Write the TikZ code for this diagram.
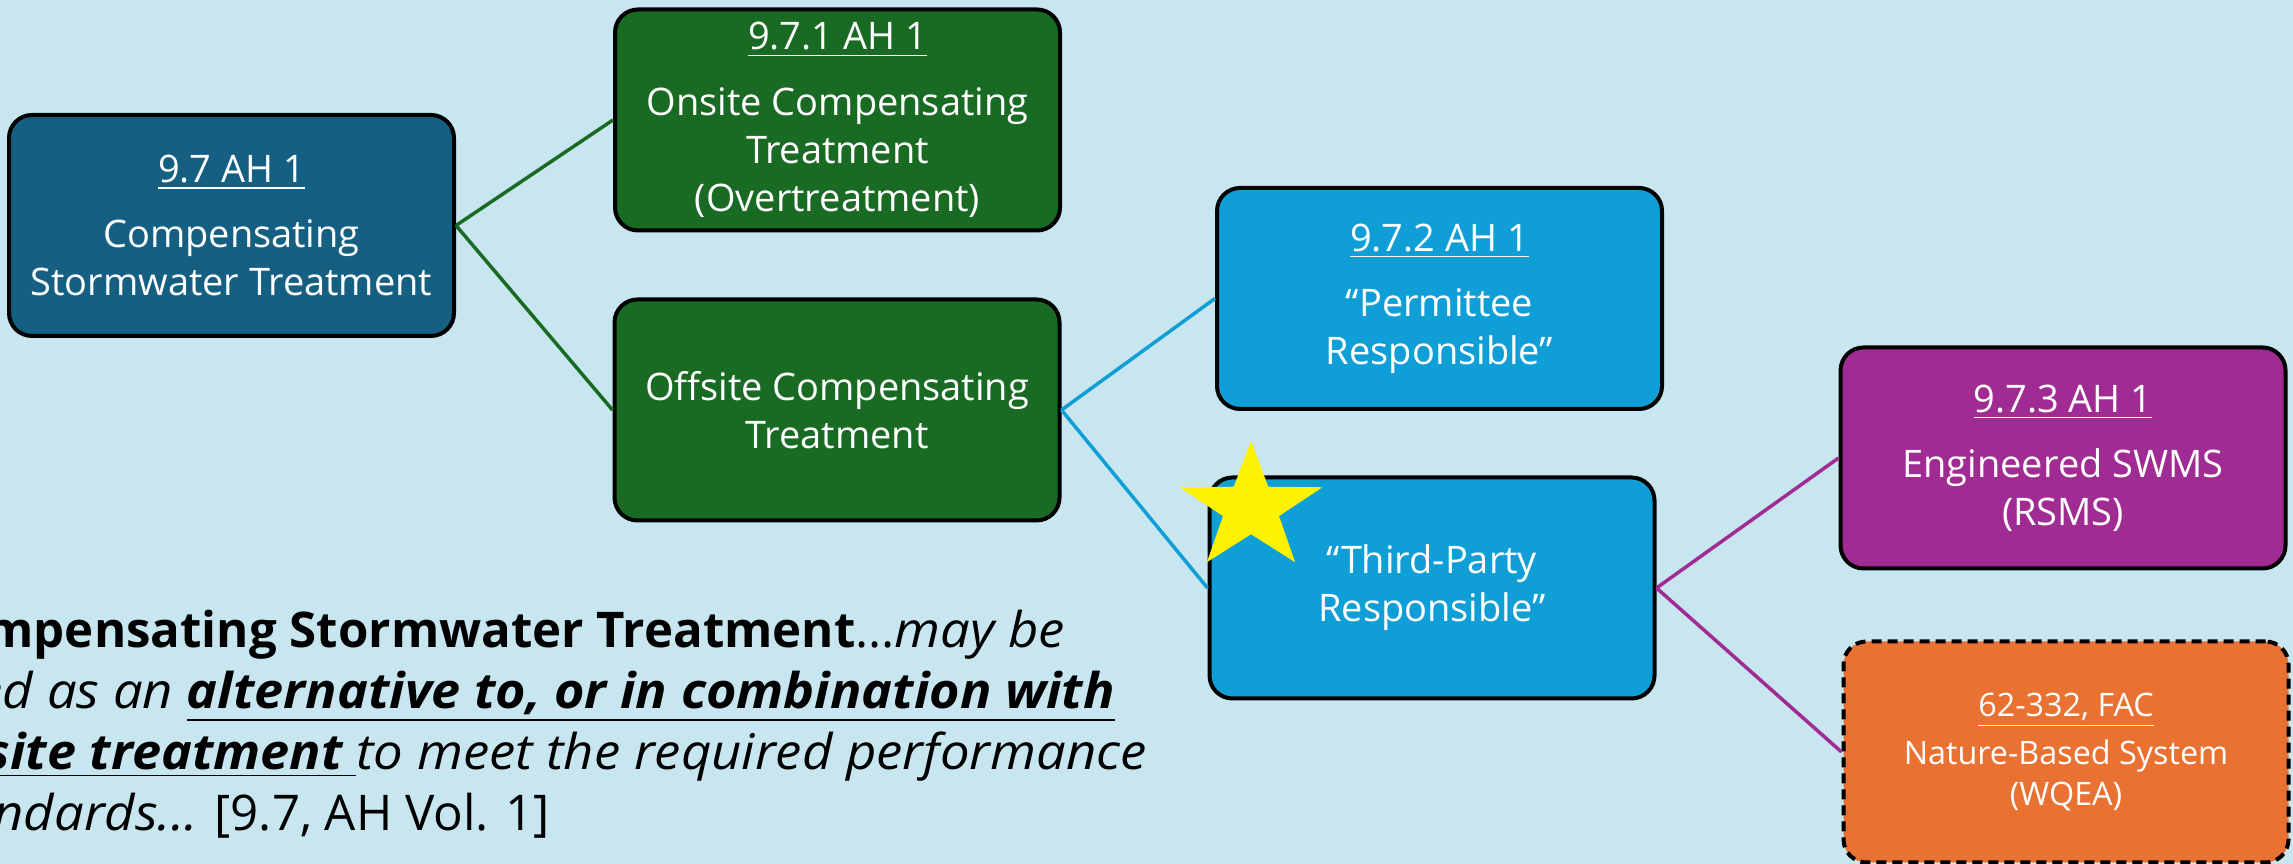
\documentclass[tikz,border=0pt]{standalone}
\usepackage{fontspec}
\setmainfont{Open Sans}[ItalicFeatures={FakeStretch=1.07}, BoldItalicFeatures={FakeStretch=1.06}]
\usetikzlibrary{shapes.geometric}

\definecolor{bgblue}{HTML}{C8E6F0}
\definecolor{rootblue}{HTML}{156082}
\definecolor{leafgreen}{HTML}{196B24}
\definecolor{skyblue}{HTML}{0F9ED5}
\definecolor{plum}{HTML}{A02B93}
\definecolor{tangerine}{HTML}{E97132}

\tikzset{
  box/.style={draw=black, line width=0.04cm, rounded corners=0.23cm,
    minimum width=4.45cm, minimum height=2.21cm, inner sep=0pt,
    align=center, text=white, font=\fontsize{10.8}{13.7}\selectfont},
  link/.style={line width=0.035cm},
}

\begin{document}
\begin{tikzpicture}
    \fill[bgblue] (0,0) rectangle (22.93,8.64);
    \useasboundingbox (0,0) rectangle (22.93,8.64);
    \clip (0,0) rectangle (22.93,8.64);

    \node[box, fill=rootblue] (cst) at (2.315,6.385) {\underline{9.7 AH 1}\\[0.17cm]Compensating\\Stormwater Treatment};
    \node[box, fill=leafgreen] (onsite) at (8.375,7.44) {\underline{9.7.1 AH 1}\\[0.17cm]Onsite Compensating\\Treatment\\(Overtreatment)};
    \node[box, fill=leafgreen] (offsite) at (8.37,4.54) {Offsite Compensating\\Treatment};
    \node[box, fill=skyblue] (permittee) at (14.395,5.655) {\underline{9.7.2 AH 1}\\[0.17cm]“Permittee\\Responsible”};
    \node[box, fill=skyblue] (thirdparty) at (14.32,2.76) {“Third-Party\\Responsible”};
    \node[box, fill=plum] (engineered) at (20.63,4.06) {\underline{9.7.3 AH 1}\\[0.17cm]Engineered SWMS\\(RSMS)};
    \node[box, fill=tangerine, dash pattern=on 0.1cm off 0.06cm, font=\fontsize{9.2}{11.6}\selectfont] (nature) at (20.66,1.12) {\underline{62-332, FAC}\\[0.08cm]Nature-Based System\\(WQEA)};

    \draw[link, leafgreen] (cst.east) -- (onsite.west);
    \draw[link, leafgreen] (cst.east) -- (offsite.west);
    \draw[link, skyblue] (offsite.east) -- (permittee.west);
    \draw[link, skyblue] (offsite.east) -- (thirdparty.west);
    \draw[link, plum] (thirdparty.east) -- (engineered.west);
    \draw[link, plum] (thirdparty.east) -- (nature.west);

    \node[star, star points=5, star point ratio=2.55, fill=yellow, minimum size=1.34cm, inner sep=0pt, xscale=1.12, transform shape] (badge) at (12.51,3.56) {};

    \node[anchor=north west, align=left, inner sep=0pt, text=black, font=\fontsize{14}{17.4}\selectfont] (quote) at (-0.77,2.60)
      {\strut\textbf{Compensating Stormwater Treatment}...\textit{may be}\\
       \textit{used as an \textbf{\underline{alternative to, or in combination with}}}\\
       \textit{\underline{\textbf{onsite treatment} }to meet the required performance}\\
       \textit{standards...} [9.7, AH Vol. 1]};
  \end{tikzpicture}
\end{document}
